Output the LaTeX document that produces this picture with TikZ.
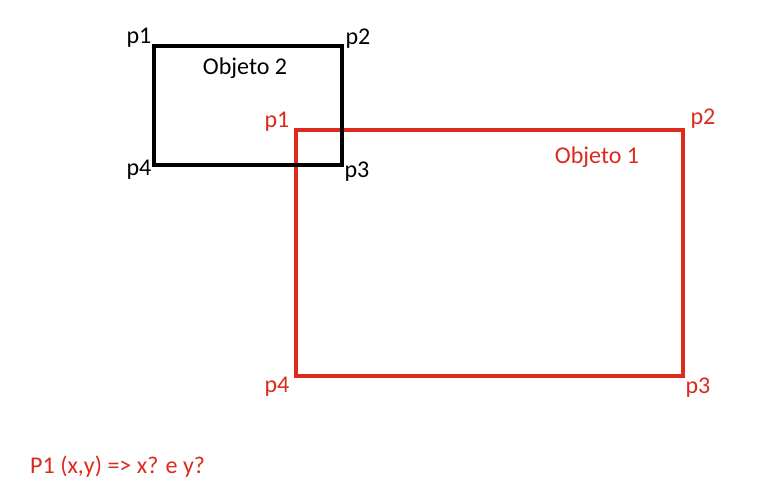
\documentclass[tikz,border=0pt]{standalone}
\usepackage{fontspec}
\setmainfont{Carlito}
\definecolor{objred}{RGB}{220,42,28}
\begin{document}
\begin{tikzpicture}[x=0.03cm,y=-0.03cm,
  lbl/.style={font=\fontsize{20.5}{24}\selectfont,inner sep=0pt},
  redlbl/.style={lbl,text=objred}]
\useasboundingbox (0,0) rectangle (758,498);
\fill[white] (0,0) rectangle (758,498);

% Objeto 1
\coordinate (r1) at (296,130);
\coordinate (r3) at (683,376);
\draw[objred,line width=2.7pt] (r1) rectangle (r3);

% Objeto 2
\coordinate (b1) at (154,46);
\coordinate (b3) at (342,165);
\draw[line width=2.7pt] (b1) rectangle (b3);

\node[lbl] (bp1) at (139,38) {p1};
\node[lbl] (bp2) at (358,39) {p2};
\node[lbl] (bp3) at (357,172) {p3};
\node[lbl] (bp4) at (139,170) {p4};
\node[lbl] (obj2) at (245,68) {Objeto 2};

\node[redlbl] (rp1) at (277,122) {p1};
\node[redlbl] (rp2) at (703,119) {p2};
\node[redlbl] (rp3) at (698,388) {p3};
\node[redlbl] (rp4) at (277,387) {p4};
\node[redlbl] (obj1) at (597,157) {Objeto 1};

\node[redlbl,anchor=west] (quest) at (30,467) {P1 (x,y) => x? e y?};
\end{tikzpicture}
\end{document}
